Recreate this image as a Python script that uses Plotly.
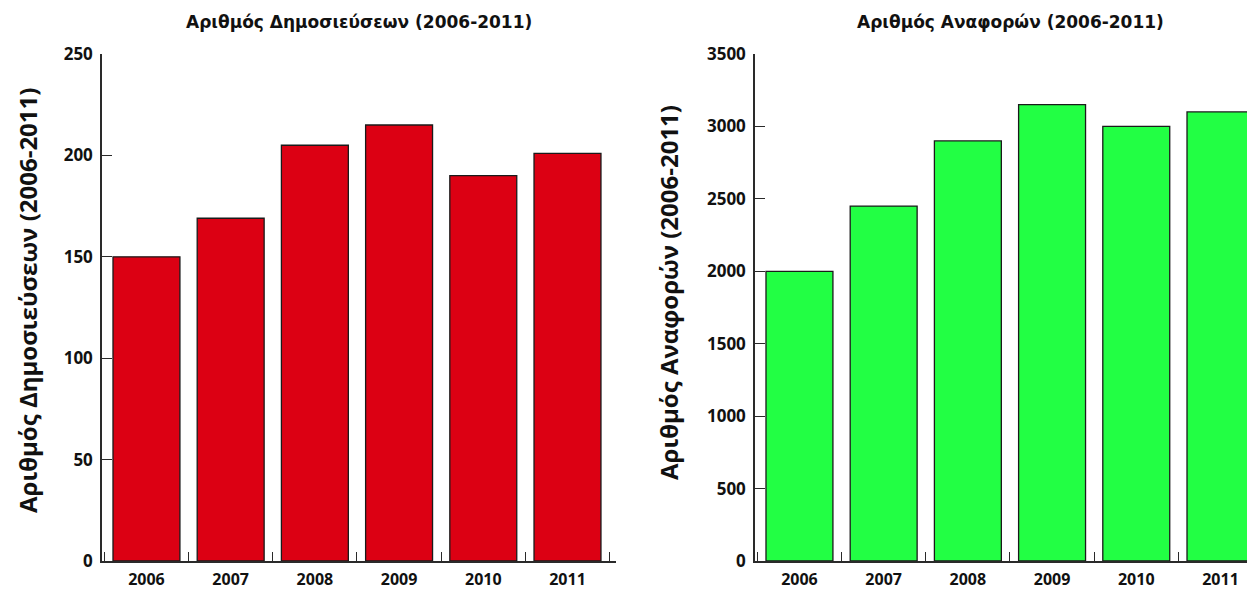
import plotly.graph_objects as go

years = ["2006", "2007", "2008", "2009", "2010", "2011"]
publications = [150, 169, 205, 215, 190, 201]
citations = [2000, 2450, 2900, 3150, 3000, 3100]

title_left = "Αριθμός Δημοσιεύσεων (2006-2011)"
title_right = "Αριθμός Αναφορών (2006-2011)"
ytitle_left = "Αριθμός Δημοσιεύσεων (2006-2011)"
ytitle_right = "Αριθμός Αναφορών (2006-2011)"

# page has an 8px body margin, so the figure is 8px smaller and coordinates shift by 8
W, H = 1247, 583
OFF = 8
RED = "#DC0013"
GREEN = "#22FF44"
AX = "#2a2a2a"
TICKFONT = dict(family="Open Sans", size=17, color="#111111", weight="bold")
XTICKFONT = dict(family="Open Sans", size=16, color="#111111", weight="bold")

fig = go.Figure()
fig.add_trace(go.Bar(x=years, y=publications, xaxis="x", yaxis="y",
                     marker=dict(color=RED, line=dict(color="#1a1a1a", width=1.3)),
                     showlegend=False))
fig.add_trace(go.Bar(x=years, y=citations, xaxis="x2", yaxis="y2",
                     marker=dict(color=GREEN, line=dict(color="#1a1a1a", width=1.3)),
                     showlegend=False))

xcommon = dict(type="category", showline=True, linecolor=AX, linewidth=1.5,
               ticks="inside", ticklen=9, tickcolor=AX, tickwidth=1.3,
               tickson="boundaries", showgrid=False, zeroline=False,
               tickfont=XTICKFONT, ticklabelstandoff=3, automargin=False)
ycommon = dict(showline=True, linecolor=AX, linewidth=1.5, ticks="inside",
               ticklen=10, tickcolor=AX, tickwidth=1.3, showgrid=False,
               zeroline=False, tickfont=TICKFONT, ticklabelstandoff=4, automargin=False)

TOP, BOT = 54 - OFF, 561 - OFF
fig.update_layout(
    width=W, height=H,
    margin=dict(l=0, r=0, t=TOP, b=H - BOT, autoexpand=False),
    paper_bgcolor="white", plot_bgcolor="white",
    bargap=0.205,
    xaxis=dict(domain=[(102 - OFF) / W, (616 - OFF) / W], range=[-0.528, 5.576], anchor="y", **xcommon),
    yaxis=dict(domain=[0, 1], range=[0, 250], dtick=50, anchor="x", **ycommon),
    xaxis2=dict(domain=[(755 - OFF) / W, 1.0], range=[-0.528, 5.41], anchor="y2", **xcommon),
    yaxis2=dict(domain=[0, 1], range=[0, 3500], dtick=500, anchor="x2", **ycommon),
)

def py(ypage):
    return 1 - (ypage - OFF - TOP) / (BOT - TOP)

def px(xpage):
    return (xpage - OFF) / W

for txt, xp in [(title_left, 359), (title_right, 1011)]:
    fig.add_annotation(text=txt, x=px(xp), y=py(22), xref="paper", yref="paper",
                       showarrow=False, xanchor="center", yanchor="middle",
                       font=dict(family="DejaVu Sans", size=17, color="#111111", weight="bold"))

for txt, xp, yp in [(ytitle_left, 27, 301), (ytitle_right, 668, 293)]:
    fig.add_annotation(text=txt, x=px(xp), y=py(yp), xref="paper", yref="paper",
                       showarrow=False, textangle=-90, xanchor="center", yanchor="middle",
                       font=dict(family="Open Sans", size=24, color="#111111", weight="bold"))

fig.write_html("out.html")
